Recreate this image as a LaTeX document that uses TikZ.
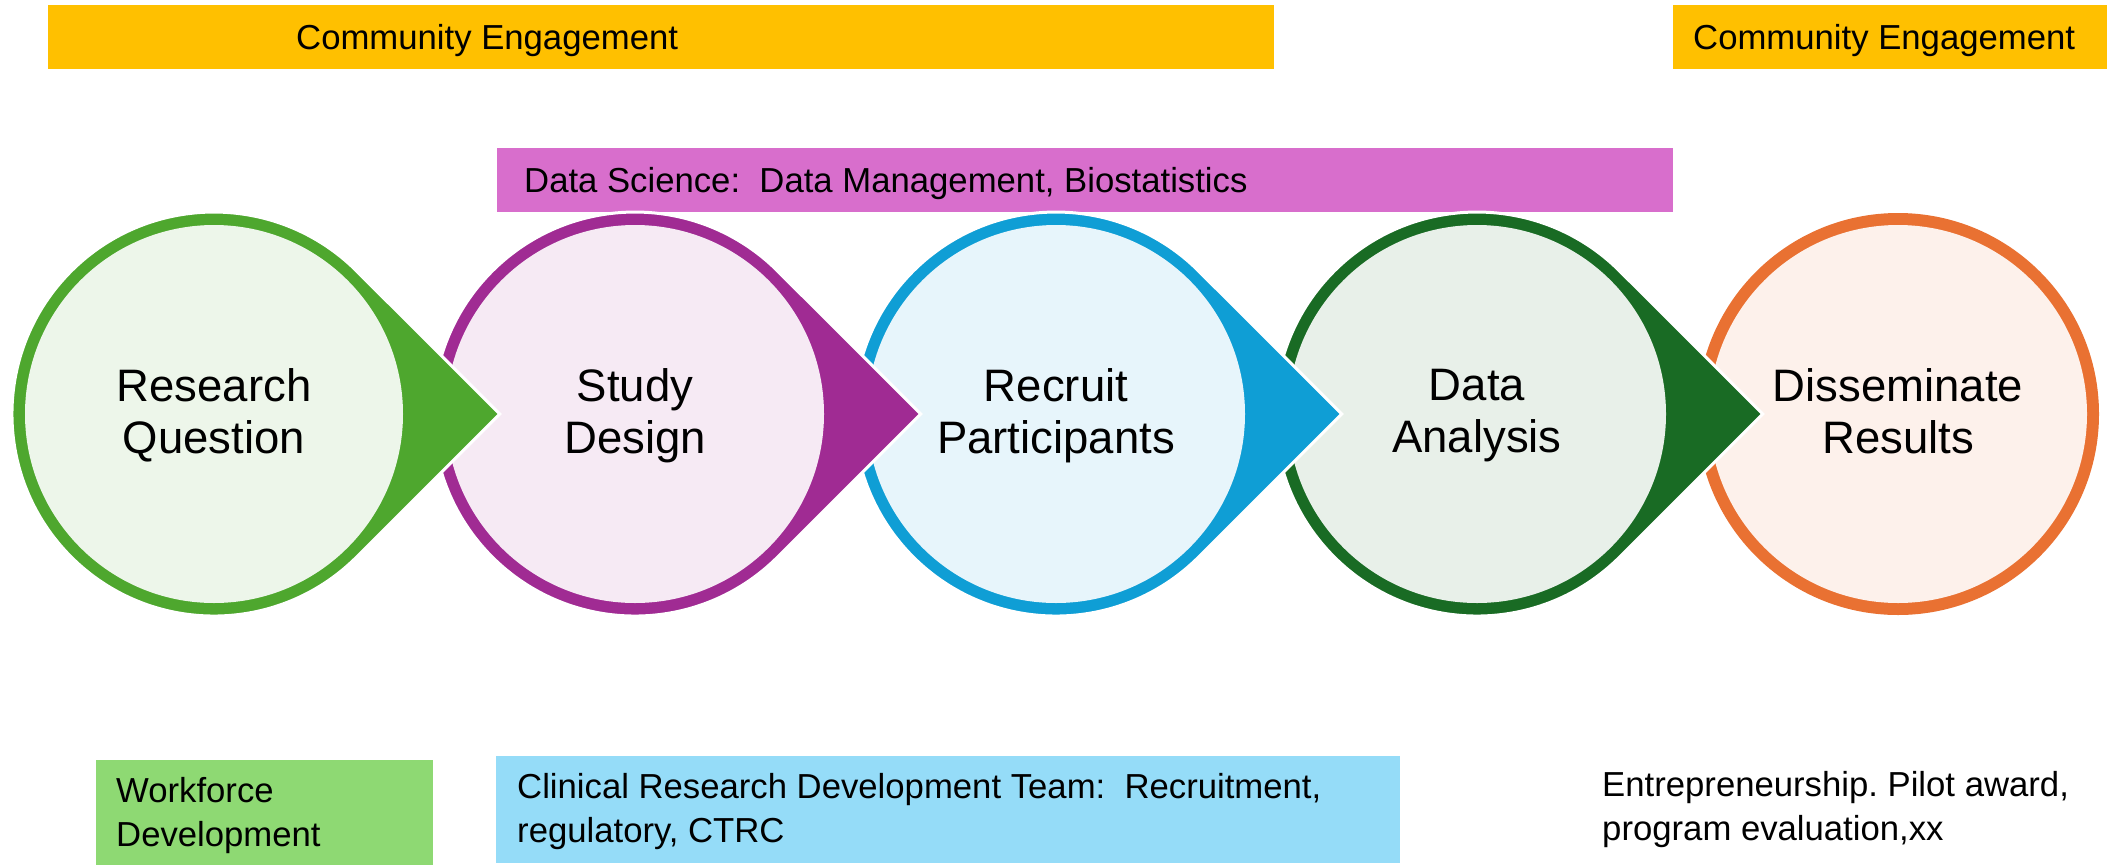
\documentclass[tikz,border=0pt]{standalone}
\usepackage{fontspec}
\setmainfont{Liberation Sans}
\usetikzlibrary{calc}
\frenchspacing
\definecolor{cGreen}{HTML}{4EA72E}
\definecolor{cGreenL}{HTML}{EDF6EA}
\definecolor{cPurple}{HTML}{A02B93}
\definecolor{cPurpleL}{HTML}{F6EAF4}
\definecolor{cBlue}{HTML}{0F9ED5}
\definecolor{cBlueL}{HTML}{E7F5FB}
\definecolor{cDkGreen}{HTML}{196B24}
\definecolor{cDkGreenL}{HTML}{E8F0E9}
\definecolor{cOrange}{HTML}{E97132}
\definecolor{cOrangeL}{HTML}{FDF1EB}
\definecolor{cYellow}{HTML}{FFC000}
\definecolor{cMagenta}{HTML}{D86ECC}
\definecolor{cLime}{HTML}{8ED973}
\definecolor{cSky}{HTML}{95DCF8}
\newcommand\mydrop[2]{%
  \path[fill=#2, draw=white, line width=3pt]
    ($(#1)+(285.7,0)$) -- ($(#1)+(142.8,-142.8)$)
    arc[start angle=45, end angle=315, radius=202pt] -- cycle;}
\tikzset{
  bandbox/.style={anchor=north west, inner sep=0pt, outer sep=0pt},
  boxtext/.style={font=\fontsize{34.7}{44}\selectfont, inner sep=0pt, anchor=base west, align=left},
  stepcircle/.style={circle, minimum size=378pt, inner sep=0pt, align=center,
    text depth=6pt, font=\fontsize{45.5}{52}\selectfont},
}
\begin{document}
\begin{tikzpicture}[x=1pt, y=-1pt]
\fill[white] (0,0) rectangle (2107,865);
\useasboundingbox (0,0) rectangle (2107,865);

% top bands
\node[bandbox, fill=cYellow, minimum width=1226pt, minimum height=64pt] (ceL) at (48,5) {};
\node[boxtext] (ceLt) at (296,49) {Community Engagement};
\node[bandbox, fill=cYellow, minimum width=434pt, minimum height=64pt] (ceR) at (1673,5) {};
\node[boxtext] (ceRt) at (1693,49) {Community Engagement};
\node[bandbox, fill=cMagenta, minimum width=1176pt, minimum height=64pt] (ds) at (497,148) {};
\node[boxtext] (dst) at (524,192) {Data Science:\ \ Data Management, Biostatistics};

% circle centres
\coordinate (c1) at (214,414);
\coordinate (c2) at (635,414);
\coordinate (c3) at (1056,414);
\coordinate (c4) at (1477,414);
\coordinate (c5) at (1898,414);

% drawn right to left so each tip lies over the next circle
\fill[cOrange] (c5) circle[radius=201pt];
\node[stepcircle, fill=cOrangeL] (dr) at (c5) {Disseminate\\Results};

\mydrop{c4}{cDkGreen}
\node[stepcircle, fill=cDkGreenL] (da) at (c4) {Data\\Analysis};

\mydrop{c3}{cBlue}
\node[stepcircle, fill=cBlueL] (rp) at (c3) {Recruit\\Participants};

\mydrop{c2}{cPurple}
\node[stepcircle, fill=cPurpleL] (sd) at (c2) {Study\\Design};

\mydrop{c1}{cGreen}
\node[stepcircle, fill=cGreenL] (rq) at (c1) {Research\\Question};

% bottom boxes (multi-line text: base anchor is the last line)
\node[bandbox, fill=cLime, minimum width=337pt, minimum height=105pt] (wf) at (96,760) {};
\node[boxtext] (wft) at (116,846) {Workforce\\Development};
\node[bandbox, fill=cSky, minimum width=904pt, minimum height=107pt] (cr) at (496,756) {};
\node[boxtext] (crt) at (517,842) {Clinical Research Development Team:\ \ Recruitment,\\regulatory, CTRC};
\node[boxtext] (ent) at (1602,840) {Entrepreneurship. Pilot award,\\program evaluation,xx};
\end{tikzpicture}
\end{document}
